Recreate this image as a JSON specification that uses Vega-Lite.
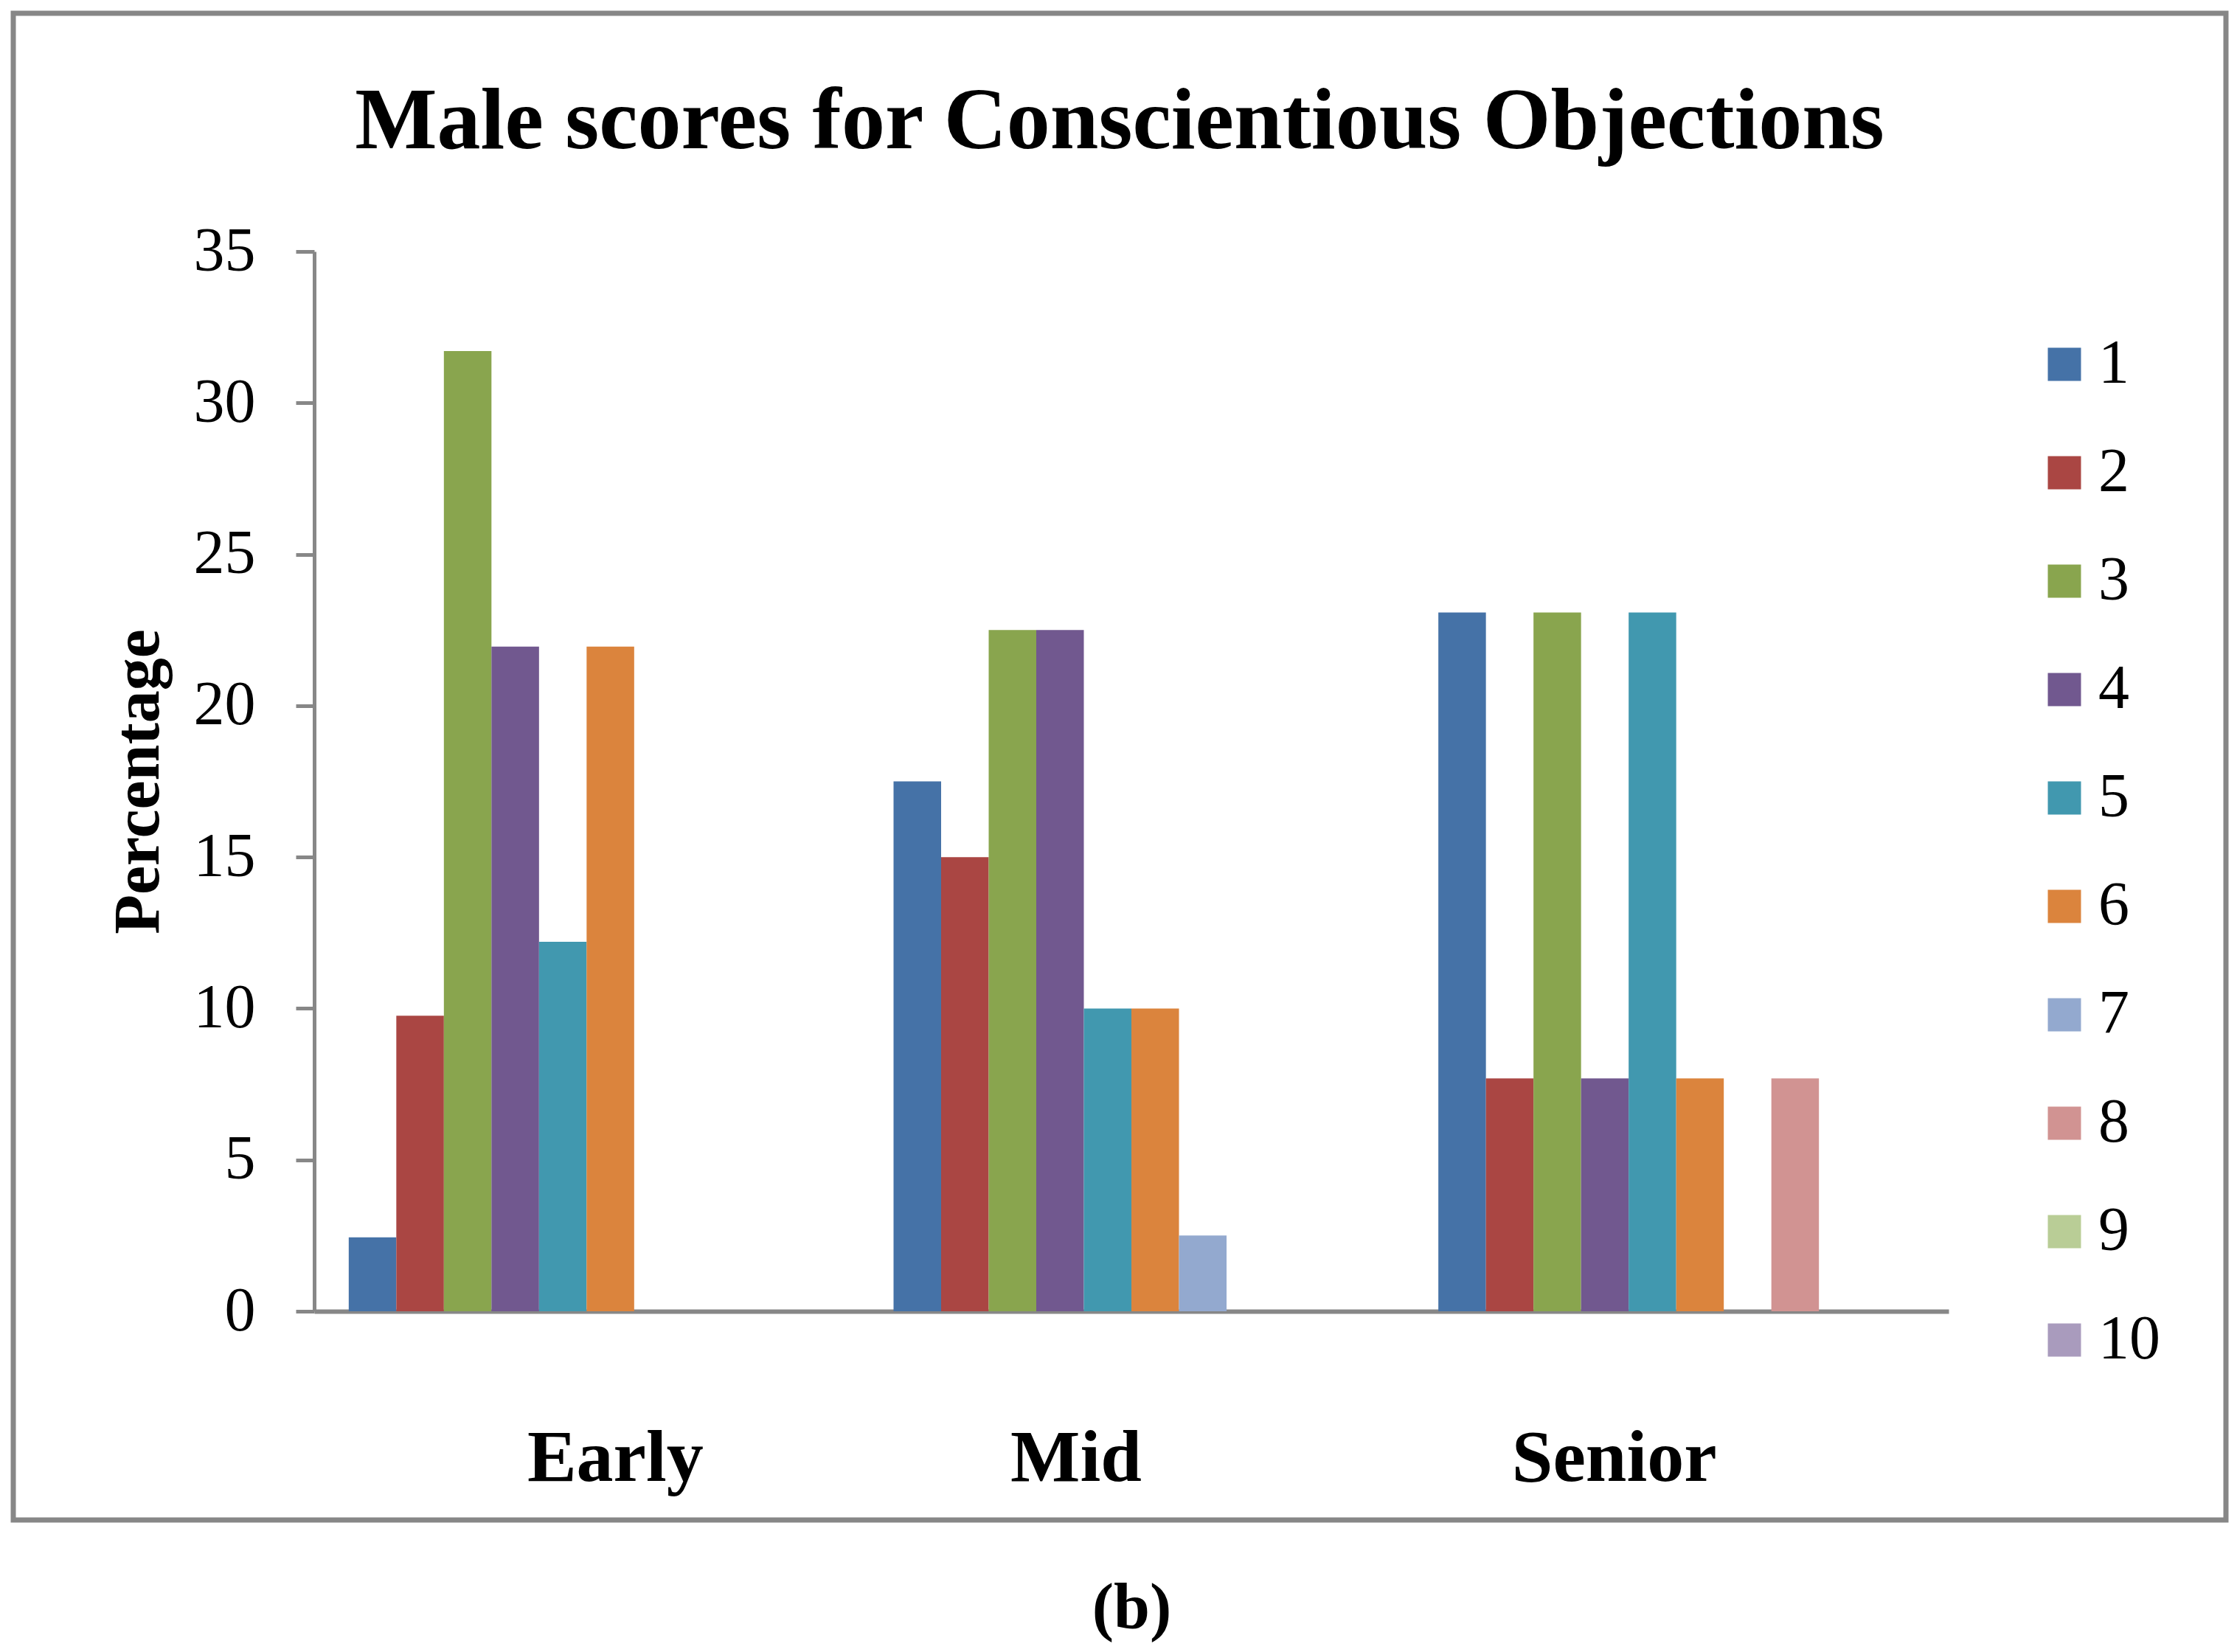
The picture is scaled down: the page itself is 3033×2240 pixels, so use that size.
{
  "$schema": "https://vega.github.io/schema/vega-lite/v6.json",
  "description": "Male scores for Conscientious Objections",
  "width": 3000,
  "height": 2043,
  "autosize": {"type": "none"},
  "padding": {"left": 18, "top": 18, "right": 15, "bottom": 179},
  "background": "white",
  "title": {
    "text": "Male scores for Conscientious Objections",
    "font": "Liberation Serif",
    "fontSize": 118,
    "fontWeight": "bold",
    "color": "black",
    "anchor": "middle",
    "frame": "group",
    "baseline": "alphabetic",
    "offset": -301
  },
  "data": {
    "values": [
      {"stage": "Early", "score": "1", "pct": 2.44},
      {"stage": "Early", "score": "2", "pct": 9.76},
      {"stage": "Early", "score": "3", "pct": 31.71},
      {"stage": "Early", "score": "4", "pct": 21.95},
      {"stage": "Early", "score": "5", "pct": 12.2},
      {"stage": "Early", "score": "6", "pct": 21.95},
      {"stage": "Early", "score": "7", "pct": 0},
      {"stage": "Early", "score": "8", "pct": 0},
      {"stage": "Early", "score": "9", "pct": 0},
      {"stage": "Early", "score": "10", "pct": 0},
      {"stage": "Mid", "score": "1", "pct": 17.5},
      {"stage": "Mid", "score": "2", "pct": 15},
      {"stage": "Mid", "score": "3", "pct": 22.5},
      {"stage": "Mid", "score": "4", "pct": 22.5},
      {"stage": "Mid", "score": "5", "pct": 10},
      {"stage": "Mid", "score": "6", "pct": 10},
      {"stage": "Mid", "score": "7", "pct": 2.5},
      {"stage": "Mid", "score": "8", "pct": 0},
      {"stage": "Mid", "score": "9", "pct": 0},
      {"stage": "Mid", "score": "10", "pct": 0},
      {"stage": "Senior", "score": "1", "pct": 23.08},
      {"stage": "Senior", "score": "2", "pct": 7.69},
      {"stage": "Senior", "score": "3", "pct": 23.08},
      {"stage": "Senior", "score": "4", "pct": 7.69},
      {"stage": "Senior", "score": "5", "pct": 23.08},
      {"stage": "Senior", "score": "6", "pct": 7.69},
      {"stage": "Senior", "score": "7", "pct": 0},
      {"stage": "Senior", "score": "8", "pct": 7.69},
      {"stage": "Senior", "score": "9", "pct": 0},
      {"stage": "Senior", "score": "10", "pct": 0}
    ]
  },
  "mark": {"type": "bar", "strokeWidth": 0},
  "encoding": {
    "x": {
      "field": "stage",
      "type": "nominal",
      "sort": ["Early", "Mid", "Senior"],
      "scale": {"range": [408, 2624], "paddingInner": 0, "paddingOuter": 0},
      "axis": {
        "offset": -283,
        "ticks": false,
        "tickSize": 0,
        "domainColor": "#878787",
        "domainWidth": 6,
        "labelAngle": 0,
        "labelFont": "Liberation Serif",
        "labelFontSize": 100,
        "labelFontWeight": "bold",
        "labelColor": "black",
        "labelBaseline": "alphabetic",
        "labelPadding": 229,
        "labelLimit": 1000,
        "labelOffset": {
          "condition": [
            {"test": "datum.value === 'Early'", "value": 39},
            {"test": "datum.value === 'Mid'", "value": -75}
          ],
          "value": -84
        },
        "title": "(b)",
        "titleFont": "Liberation Serif",
        "titleFontSize": 88,
        "titleFontWeight": "bold",
        "titleColor": "black",
        "titleBaseline": "alphabetic",
        "titleY": 429
      }
    },
    "xOffset": {
      "field": "score",
      "type": "nominal",
      "scale": {
        "domain": ["1", "2", "3", "4", "5", "6", "7", "8", "9", "10"],
        "paddingInner": 0,
        "paddingOuter": 0.726
      }
    },
    "y": {
      "field": "pct",
      "type": "quantitative",
      "scale": {"domain": [0, 35], "nice": false, "range": [1760, 323]},
      "axis": {
        "offset": -408,
        "values": [0, 5, 10, 15, 20, 25, 30, 35],
        "grid": false,
        "domainColor": "#878787",
        "domainWidth": 5,
        "tickColor": "#878787",
        "tickWidth": 5,
        "tickSize": 25,
        "labelFont": "Liberation Serif",
        "labelFontSize": 84,
        "labelColor": "black",
        "labelPadding": 55,
        "title": "Percentage",
        "titleFont": "Liberation Serif",
        "titleFontSize": 88,
        "titleFontWeight": "bold",
        "titleColor": "black",
        "titlePadding": 30
      }
    },
    "color": {
      "field": "score",
      "type": "nominal",
      "scale": {
        "domain": ["1", "2", "3", "4", "5", "6", "7", "8", "9", "10"],
        "range": ["#4572A7", "#AA4643", "#89A54E", "#71588F", "#4198AF", "#DB843D", "#93A9CF", "#D19392", "#B9CD96", "#A99BBD"]
      },
      "legend": {
        "orient": "none",
        "legendX": 2739,
        "legendY": 434,
        "padding": 0,
        "title": null,
        "symbolType": "square",
        "symbolSize": 2025,
        "symbolStrokeWidth": 0,
        "labelFont": "Liberation Serif",
        "labelFontSize": 84,
        "labelColor": "black",
        "labelOffset": 4,
        "rowPadding": 63
      }
    }
  },
  "config": {
    "view": {"stroke": "#878787", "strokeWidth": 7}
  }
}
